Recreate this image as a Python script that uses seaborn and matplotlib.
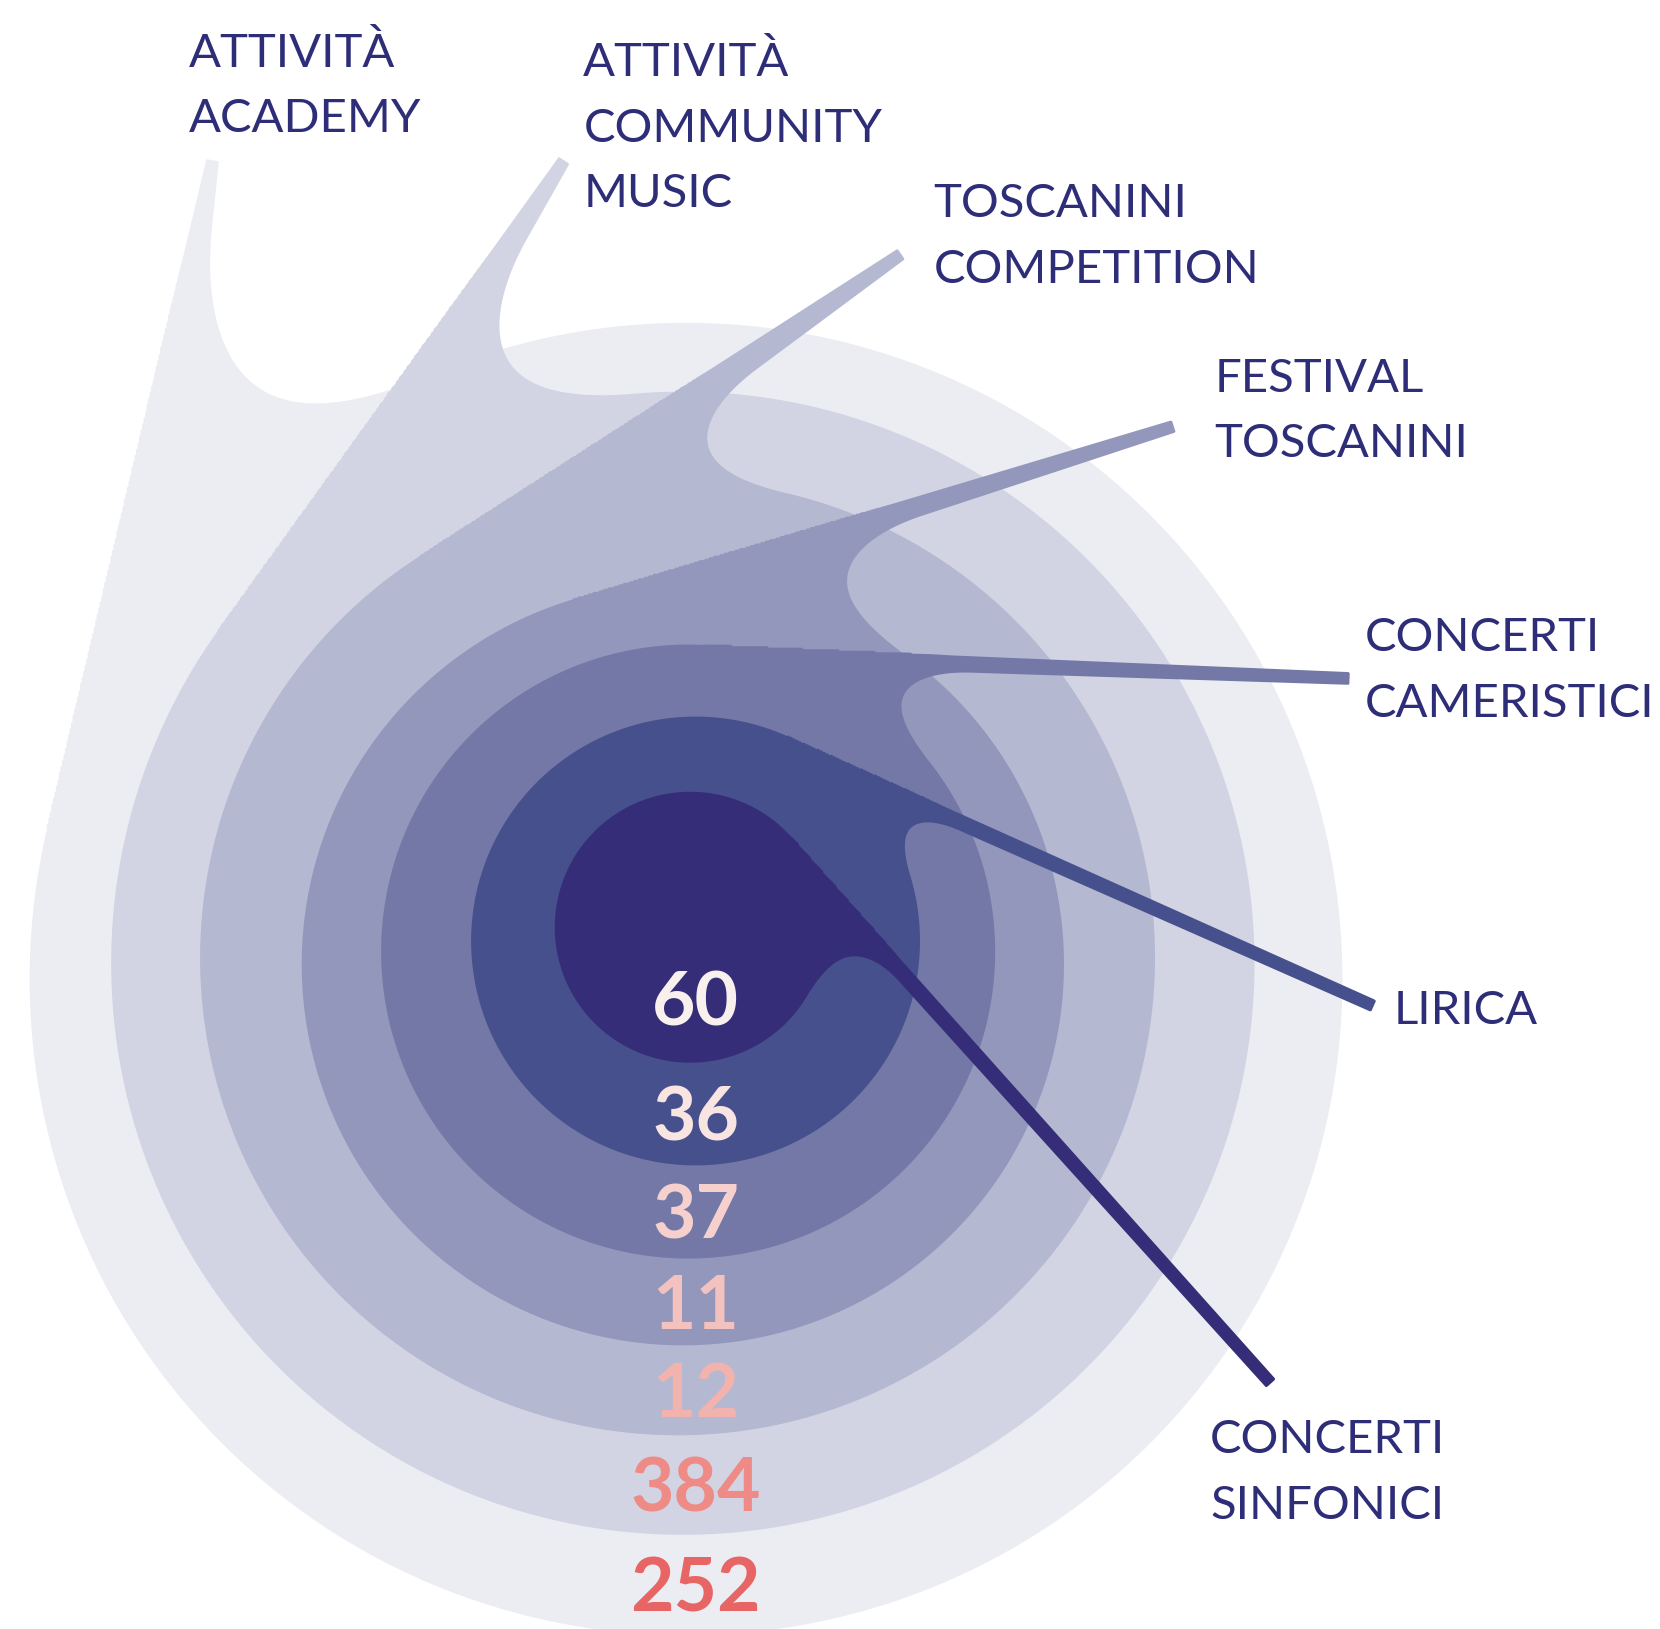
import numpy as np
import seaborn as sns
import matplotlib.pyplot as plt

# data (inner -> outer)
categories = ["CONCERTI\nSINFONICI", "LIRICA", "CONCERTI\nCAMERISTICI",
              "FESTIVAL\nTOSCANINI", "TOSCANINI\nCOMPETITION",
              "ATTIVITÀ\nCOMMUNITY\nMUSIC", "ATTIVITÀ\nACADEMY"]
values = [60, 36, 37, 11, 12, 384, 252]

# colours
layer_colors = ["#352D78", "#46508D", "#7378A7", "#9397BB", "#B4B8D1", "#D3D4E3", "#ECEDF3"]
number_colors = ["#F8F0EC", "#F8E4E0", "#F5D0CC", "#F4C2BE", "#F2B2AD", "#EE8B86", "#E86565"]
label_color = "#2E2D78"

# layout of the drop shapes (canvas pixel units)
centers = [(652, 876), (657, 889), (650, 899), (645, 911), (640, 905), (645, 910), (648, 925)]
radii = [128, 212, 290, 360, 451, 540, 620]
tips = [(1205, 1303), (1300, 945), (1275, 635), (1107, 397), (848, 235), (528, 148), (195, 150)]
base_w = [8, 8, 9, 14, 24, 36, 48]
fillet = [75, 58, 85, 120, 110, 160, 220]
label_pos = [(1143, 1373), (1316, 967), (1289, 615), (1147, 370), (882, 205), (551, 72), (178, 63)]
line_step = 62
tip_w = 6

W, H = 1568, 1539
sns.set_theme(style="white")
plt.rcParams['font.family'] = ['Lato', 'DejaVu Sans']

xs = np.linspace(0, W, 1100)
ys = np.linspace(0, H, 1080)
X, Y = np.meshgrid(xs, ys)


def tangent_point(c, R, tip):
    dx, dy = tip[0] - c[0], tip[1] - c[1]
    d = np.hypot(dx, dy)
    ang = np.arctan2(dy, dx) - np.arccos(R / d)
    n = np.array([np.cos(ang), np.sin(ang)])
    return np.array(c) + R * n, n


def cone_dist(a, b, ra, rb):
    a = np.array(a, float)
    b = np.array(b, float)
    ab = b - a
    t = ((X - a[0]) * ab[0] + (Y - a[1]) * ab[1]) / (ab @ ab)
    t = np.clip(t, 0, 1)
    px = a[0] + t * ab[0]
    py = a[1] + t * ab[1]
    d = np.hypot(X - px, Y - py) - (ra + (rb - ra) * t)
    # square cut at the tip
    u = -ab / np.linalg.norm(ab)
    return np.maximum(d, (X - a[0]) * u[0] + (Y - a[1]) * u[1])


def round_union(a, b, k):
    u = np.maximum(k - a, 0)
    v = np.maximum(k - b, 0)
    return np.maximum(k, np.minimum(a, b)) - np.hypot(u, v)


fig = plt.figure(figsize=(16.6, 16.29), dpi=100)
ax = fig.add_axes([0, 0, 1, 1])
ax.set_xlim(0, W)
ax.set_ylim(H, 0)
ax.axis('off')

for i in reversed(range(len(values))):
    c = centers[i]
    R = radii[i]
    T, n = tangent_point(c, R, tips[i])
    P = T - n * base_w[i]
    tip_c = np.array(tips[i], float) - n * tip_w   # keep outer edge on the tangent
    d_circ = np.hypot(X - c[0], Y - c[1]) - R
    d_tail = cone_dist(tip_c, P, tip_w, base_w[i])
    # fillet only on the inner side of the tail, between tangent point and tip
    along = np.array(tips[i]) - T
    along = along / np.linalg.norm(along)
    s = (X - T[0]) * n[0] + (Y - T[1]) * n[1]
    q = (X - T[0]) * along[0] + (Y - T[1]) * along[1]
    inner = (s < 0) & (q > 0)
    d = np.where(inner, round_union(d_circ, d_tail, fillet[i]), np.minimum(d_circ, d_tail))
    ax.contourf(X, Y, d, levels=[-1e9, 0], colors=[layer_colors[i]], antialiased=True)

# numbers, stacked in each band
bottoms = [centers[i][1] + radii[i] for i in range(len(values))]
for i, v in enumerate(values):
    if i == 0:
        y = centers[0][1] + 0.53 * radii[0]
    else:
        y = (bottoms[i] + bottoms[i - 1]) / 2
    ax.text(657, y + 5, str(v), ha='center', va='center', fontsize=54,
            fontweight='bold', color=number_colors[i])

# category labels
for i, lab in enumerate(categories):
    x0, y0 = label_pos[i]
    for j, line in enumerate(lab.split("\n")):
        ax.text(x0, y0 + j * line_step, line, ha='left', va='baseline',
                fontsize=34, color=label_color)

fig.savefig("out.png", dpi=100)
